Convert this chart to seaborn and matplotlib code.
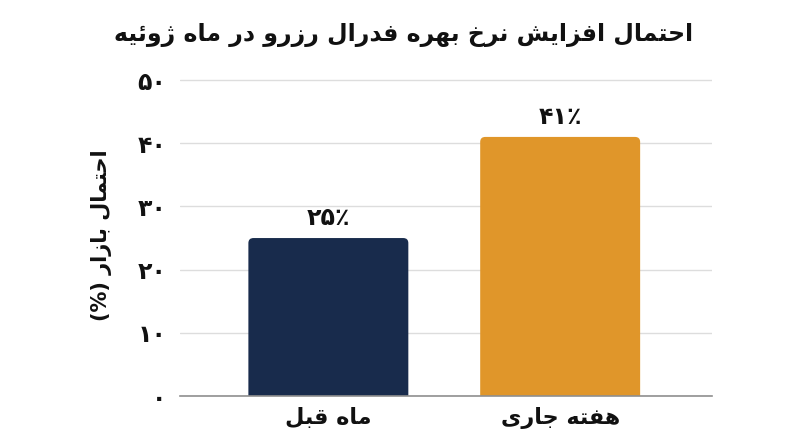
import matplotlib
matplotlib.use("Agg")
import matplotlib.pyplot as plt
from matplotlib.patches import FancyBboxPatch
import seaborn as sns
import pandas as pd

# ---------------- data ----------------
categories = ["ماه قبل", "هفته جاری"]
values = [25, 41]
bar_labels = ["۲۵٪", "۴۱٪"]
bar_colors = ["#182b4c", "#e0962a"]
y_ticks = [0, 10, 20, 30, 40, 50]
y_tick_labels = ["۰", "۱۰", "۲۰", "۳۰", "۴۰", "۵۰"]
title_text = "احتمال افزایش نرخ بهره فدرال رزرو در ماه ژوئیه"
ylabel_text = "احتمال بازار"

# ------------- minimal Arabic/Persian shaping (matplotlib has no shaper) -------------
FORMS = {  # isolated, final, initial, medial
    "ا": ("\uFE8D", "\uFE8E", None, None),
    "د": ("\uFEA9", "\uFEAA", None, None),
    "ر": ("\uFEAD", "\uFEAE", None, None),
    "ز": ("\uFEAF", "\uFEB0", None, None),
    "ژ": ("\uFB8A", "\uFB8B", None, None),
    "و": ("\uFEED", "\uFEEE", None, None),
    "ب": ("\uFE8F", "\uFE90", "\uFE91", "\uFE92"),
    "ت": ("\uFE95", "\uFE96", "\uFE97", "\uFE98"),
    "ج": ("\uFE9D", "\uFE9E", "\uFE9F", "\uFEA0"),
    "ح": ("\uFEA1", "\uFEA2", "\uFEA3", "\uFEA4"),
    "خ": ("\uFEA5", "\uFEA6", "\uFEA7", "\uFEA8"),
    "ش": ("\uFEB5", "\uFEB6", "\uFEB7", "\uFEB8"),
    "ف": ("\uFED1", "\uFED2", "\uFED3", "\uFED4"),
    "ق": ("\uFED5", "\uFED6", "\uFED7", "\uFED8"),
    "ل": ("\uFEDD", "\uFEDE", "\uFEDF", "\uFEE0"),
    "م": ("\uFEE1", "\uFEE2", "\uFEE3", "\uFEE4"),
    "ن": ("\uFEE5", "\uFEE6", "\uFEE7", "\uFEE8"),
    "ه": ("\uFEE9", "\uFEEA", "\uFEEB", "\uFEEC"),
    "ی": ("\uFBFC", "\uFBFD", "\uFBFE", "\uFBFF"),
    "ئ": ("\uFE89", "\uFE8A", "\uFE8B", "\uFE8C"),
}


def dual(c):
    return c in FORMS and FORMS[c][2] is not None


def joins(c):
    return c in FORMS


def rtl(s):
    out = []
    for i, c in enumerate(s):
        if c not in FORMS:
            out.append(c)
            continue
        prev = s[i - 1] if i > 0 else " "
        nxt = s[i + 1] if i + 1 < len(s) else " "
        p = dual(prev)
        n = dual(c) and joins(nxt)
        iso, fin, ini, med = FORMS[c]
        if p and n:
            out.append(med)
        elif p:
            out.append(fin)
        elif n:
            out.append(ini)
        else:
            out.append(iso)
    return "".join(reversed(out))


# ---------------- figure ----------------
sns.set_theme(style="white")
plt.rcParams["font.family"] = ["DejaVu Sans"]
plt.rcParams["font.weight"] = "bold"

fig = plt.figure(figsize=(8, 4.47), dpi=100)
ax = fig.add_axes([0.225, 0.114, 0.665, 0.714])

df = pd.DataFrame({"cat": [rtl(c) for c in categories], "val": values})
sns.barplot(data=df, x="cat", y="val", hue="cat", palette=bar_colors,
            width=0.69, legend=False, ax=ax, saturation=1)

ax.set_xlim(-0.64, 1.655)
ax.set_ylim(0, 50.5)

# rounded-top bars rebuilt from seaborn's own rectangles
rects = list(ax.patches)
for r, col in zip(rects, bar_colors):
    x0, y0, w, h = r.get_x(), r.get_y(), r.get_width(), r.get_height()
    r.set_visible(False)
    fb = FancyBboxPatch((x0, y0 - 2), w, h + 2,
                        boxstyle="round,pad=0,rounding_size=0.022",
                        mutation_aspect=36.0, facecolor=col,
                        edgecolor="none", zorder=3, clip_on=True)
    ax.add_patch(fb)
for r, lab in zip(rects, bar_labels):
    ax.annotate(lab, (r.get_x() + r.get_width() / 2, r.get_height()),
                xytext=(0, 6), textcoords="offset points", ha="center",
                va="bottom", fontsize=17, fontweight="bold", color="#111111")

ax.set_yticks(y_ticks)
ax.set_yticklabels(y_tick_labels, fontsize=17, fontweight="bold", color="#111111")
ax.tick_params(axis="y", length=0, pad=10)
ax.tick_params(axis="x", length=0, pad=8, labelsize=16, labelcolor="#111111")
for t in ax.get_xticklabels():
    t.set_fontweight("bold")

ax.yaxis.grid(True, color="#dddddd", linewidth=1)
ax.set_axisbelow(True)
for s in ["top", "right", "left"]:
    ax.spines[s].set_visible(False)
ax.spines["bottom"].set_color("#8f8f8f")
ax.spines["bottom"].set_linewidth(1.2)
ax.spines["bottom"].set_zorder(4)

ax.set_xlabel("")
ax.set_ylabel("(%) " + rtl(ylabel_text), fontsize=15, fontweight="bold",
              color="#111111")
ax.yaxis.set_label_coords(-0.128, 0.505)

fig.suptitle(rtl(title_text), x=0.505, y=1 - 35 / 447, va="center",
             fontsize=17, fontweight="bold", color="#111111")

fig.savefig("out.png", dpi=100, facecolor="white")
